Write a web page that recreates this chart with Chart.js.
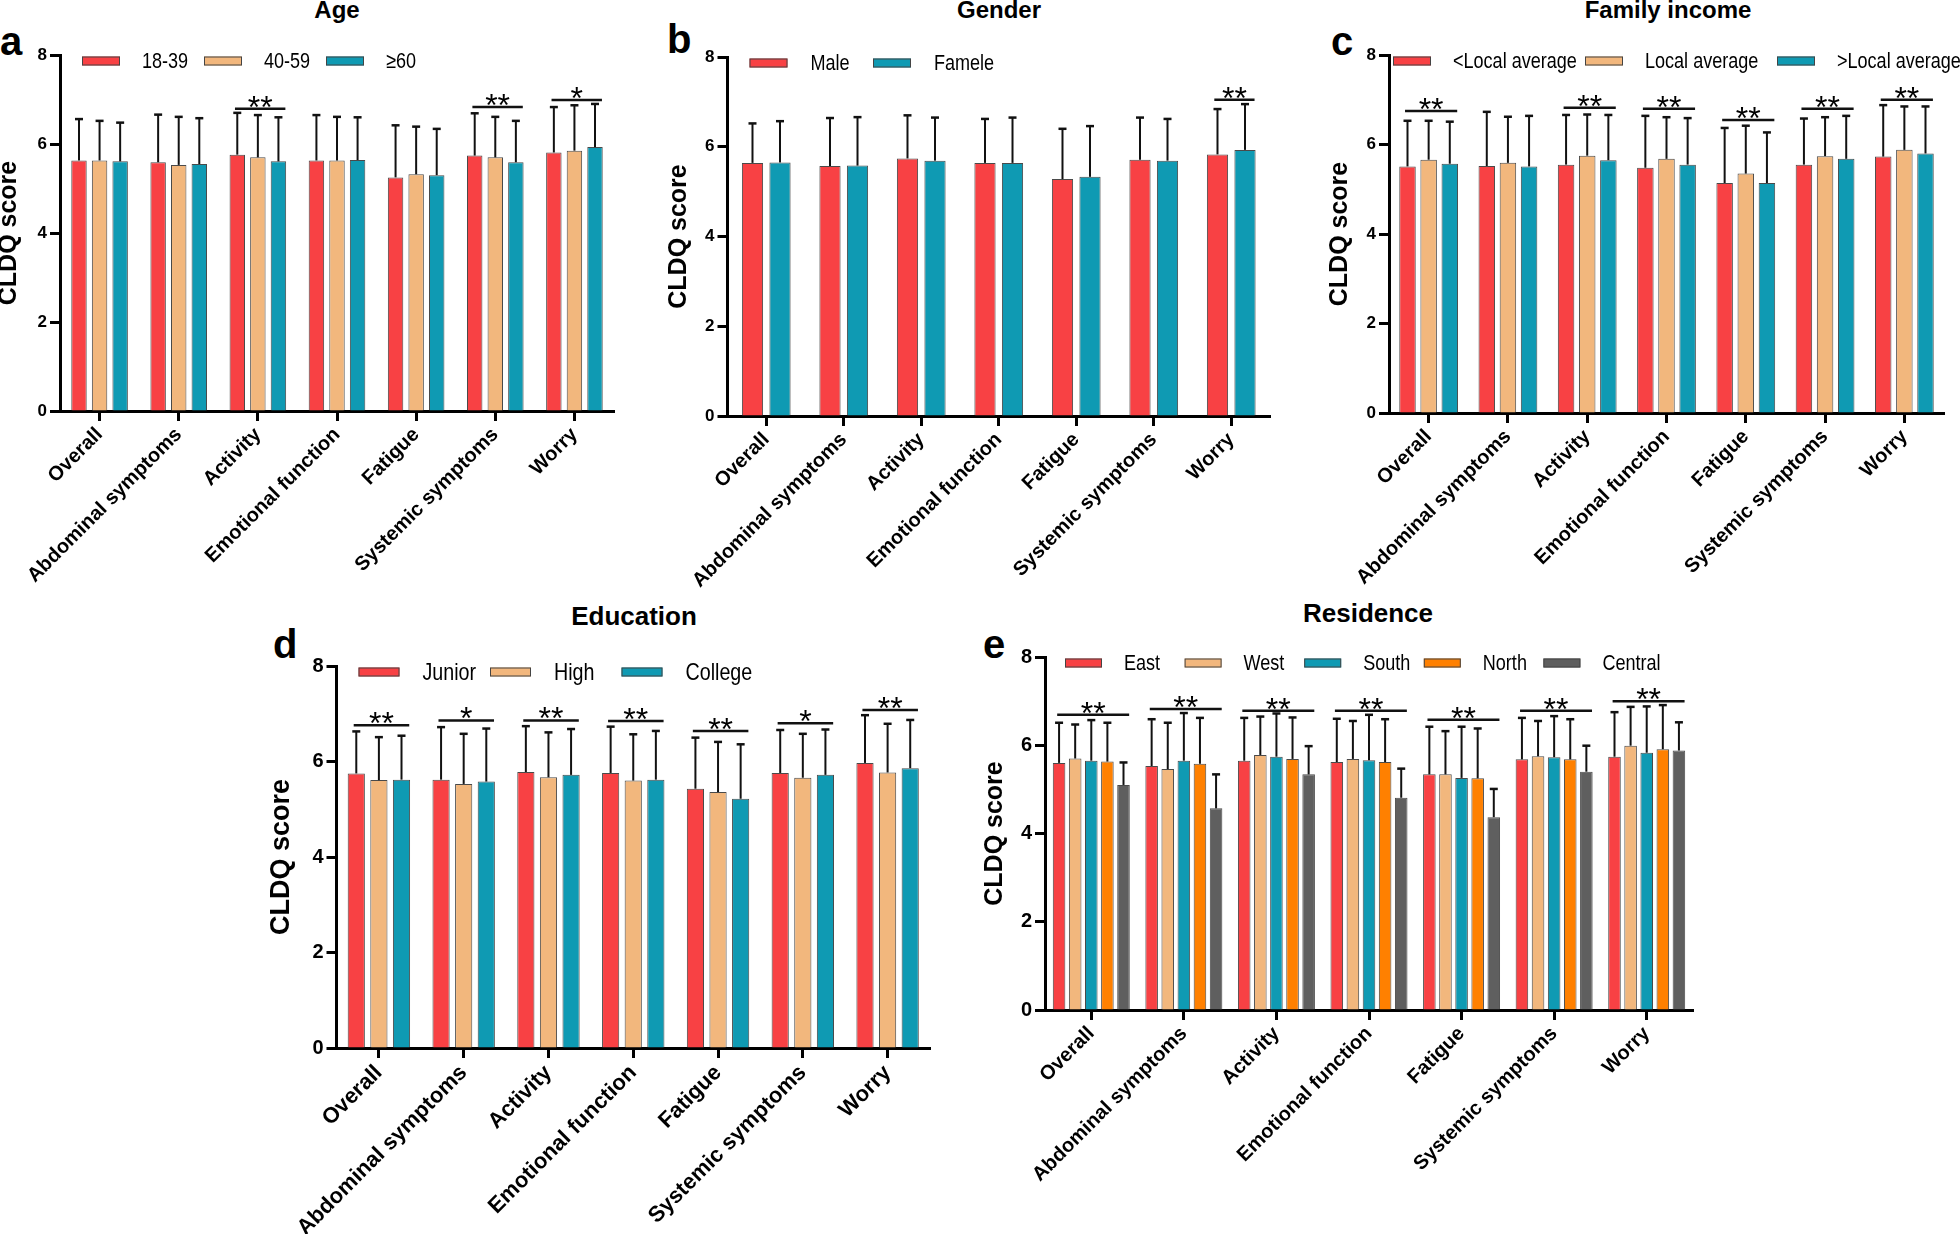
<!DOCTYPE html>
<html>
<head>
<meta charset="utf-8">
<script src="https://cdn.jsdelivr.net/npm/chart.js@4.4.1/dist/chart.umd.min.js"></script>
<style>
  body { margin: 0; background: #fff; width: 1960px; height: 1234px; position: relative; overflow: hidden;
         font-family: "Liberation Sans", Arial, sans-serif; }
  canvas { position: absolute; }
  .letter { position: absolute; font-weight: bold; font-size: 40px; line-height: 1; color: #000; }
  .title { position: absolute; font-weight: bold; line-height: 1; color: #000; white-space: nowrap; transform: translateX(-50%); }
</style>
</head>
<body>
<div class="letter" style="left:0px;top:21px">a</div>
<div class="letter" style="left:667px;top:19px">b</div>
<div class="letter" style="left:1331px;top:21px">c</div>
<div class="letter" style="left:273px;top:624px">d</div>
<div class="letter" style="left:983px;top:624px">e</div>
<div class="title" style="left:337px;top:-2px;font-size:24px">Age</div>
<div class="title" style="left:999px;top:-2px;font-size:24px">Gender</div>
<div class="title" style="left:1668px;top:-2px;font-size:24px">Family income</div>
<div class="title" style="left:634px;top:603px;font-size:26px">Education</div>
<div class="title" style="left:1368px;top:600px;font-size:26px">Residence</div>

<script>
(() => {
  'use strict'

var FONT = '"Liberation Sans", Arial, sans-serif';
Chart.defaults.font.family = FONT;
Chart.defaults.color = '#000';

// categories shared by every panel
var categories = ['Overall', 'Abdominal symptoms', 'Activity', 'Emotional function', 'Fatigue', 'Systemic symptoms', 'Worry'];

// colours
var RED = '#F84144', TAN = '#F2B77D', TEAL = '#0F9AB3', ORANGE = '#FF8000', GRAY = '#5F5F5F';

// a - Age (mean and top of the SD bar)
var ageLabels = ['18-39', '40-59', '\u226560'];
var age1839 = [5.63, 5.59, 5.76, 5.63, 5.25, 5.74, 5.81];
var age1839Top = [6.56, 6.66, 6.70, 6.65, 6.42, 6.69, 6.83];
var age4059 = [5.63, 5.53, 5.70, 5.63, 5.32, 5.70, 5.85];
var age4059Top = [6.52, 6.61, 6.65, 6.61, 6.39, 6.61, 6.87];
var age60 = [5.61, 5.55, 5.61, 5.64, 5.30, 5.59, 5.93];
var age60Top = [6.48, 6.58, 6.60, 6.60, 6.34, 6.52, 6.90];
var ageSigIndex = [2, 5, 6];
var ageSigLevel = [6.79, 6.83, 6.99];
var ageSigMark = ['**', '**', '*'];

// b - Gender
var genderLabels = ['Male', 'Famele'];
var male = [5.64, 5.57, 5.74, 5.64, 5.28, 5.71, 5.83];
var maleTop = [6.52, 6.64, 6.70, 6.62, 6.40, 6.65, 6.84];
var female = [5.65, 5.58, 5.69, 5.64, 5.33, 5.69, 5.93];
var femaleTop = [6.57, 6.66, 6.65, 6.65, 6.46, 6.62, 6.95];
var genderSigIndex = [6];
var genderSigLevel = [7.05];
var genderSigMark = ['**'];

// c - Family income
var incomeLabels = ['<Local average', 'Local average', '>Local average'];
var incomeLow = [5.51, 5.52, 5.55, 5.48, 5.14, 5.55, 5.73];
var incomeLowTop = [6.53, 6.73, 6.66, 6.64, 6.37, 6.58, 6.88];
var incomeMid = [5.66, 5.59, 5.75, 5.68, 5.35, 5.74, 5.88];
var incomeMidTop = [6.53, 6.62, 6.67, 6.61, 6.42, 6.61, 6.85];
var incomeHigh = [5.57, 5.51, 5.65, 5.55, 5.14, 5.68, 5.80];
var incomeHighTop = [6.51, 6.64, 6.66, 6.59, 6.27, 6.64, 6.85];
var incomeSigIndex = [0, 2, 3, 4, 5, 6];
var incomeSigLevel = [6.75, 6.82, 6.80, 6.55, 6.80, 7.00];
var incomeSigMark = ['**', '**', '**', '**', '**', '**'];

// d - Education
var eduLabels = ['Junior', 'High', 'College'];
var junior = [5.75, 5.62, 5.78, 5.76, 5.43, 5.76, 5.97];
var juniorTop = [6.63, 6.72, 6.74, 6.73, 6.50, 6.66, 6.97];
var high = [5.61, 5.53, 5.67, 5.60, 5.36, 5.66, 5.77];
var highTop = [6.51, 6.58, 6.61, 6.57, 6.41, 6.58, 6.79];
var college = [5.62, 5.58, 5.72, 5.62, 5.22, 5.72, 5.86];
var collegeTop = [6.54, 6.69, 6.68, 6.64, 6.36, 6.67, 6.87];
var eduSigIndex = [0, 1, 2, 3, 4, 5, 6];
var eduSigLevel = [6.76, 6.86, 6.86, 6.85, 6.64, 6.80, 7.08];
var eduSigMark = ['**', '*', '**', '**', '**', '*', '**'];

// e - Residence
var resLabels = ['East', 'West', 'South', 'North', 'Central'];
var east = [5.60, 5.53, 5.65, 5.62, 5.34, 5.68, 5.74];
var eastTop = [6.51, 6.59, 6.62, 6.60, 6.42, 6.62, 6.75];
var west = [5.70, 5.46, 5.78, 5.69, 5.34, 5.75, 5.99];
var westTop = [6.47, 6.51, 6.65, 6.55, 6.32, 6.55, 6.87];
var south = [5.65, 5.65, 5.74, 5.66, 5.26, 5.73, 5.83];
var southTop = [6.57, 6.73, 6.72, 6.69, 6.42, 6.66, 6.88];
var north = [5.63, 5.58, 5.69, 5.62, 5.25, 5.68, 5.91];
var northTop = [6.51, 6.62, 6.63, 6.59, 6.38, 6.59, 6.91];
var central = [5.10, 4.57, 5.34, 4.81, 4.37, 5.40, 5.88];
var centralTop = [5.61, 5.34, 5.98, 5.47, 5.01, 5.99, 6.52];
var resSigIndex = [0, 1, 2, 3, 4, 5, 6];
var resSigLevel = [6.69, 6.82, 6.78, 6.78, 6.58, 6.78, 7.00];
var resSigMark = ['**', '**', '**', '**', '**', '**', '**'];

// y axis ticks
var yTicks = [0, 2, 4, 6, 8];

// error bars, significance bars and the legend inside the plot
function overlay(p) {
  return {
    id: 'overlay',
    afterDatasetsDraw: function (chart) {
      var ctx = chart.ctx, y = chart.scales.y, area = chart.chartArea;
      var sets = chart.data.datasets;
      ctx.save();
      ctx.strokeStyle = '#111';
      ctx.lineCap = 'butt';
      sets.forEach(function (ds, i) {
        chart.getDatasetMeta(i).data.forEach(function (bar, j) {
          var top = y.getPixelForValue(ds.tops[j]);
          ctx.lineWidth = 2;
          ctx.beginPath();
          ctx.moveTo(bar.x, bar.y);
          ctx.lineTo(bar.x, top);
          ctx.stroke();
          ctx.lineWidth = 2.5;
          ctx.beginPath();
          ctx.moveTo(bar.x - 4, top);
          ctx.lineTo(bar.x + 4, top);
          ctx.stroke();
        });
      });

      var first = chart.getDatasetMeta(0), last = chart.getDatasetMeta(sets.length - 1);
      ctx.fillStyle = '#000';
      ctx.font = '32px ' + FONT;
      ctx.textAlign = 'center';
      ctx.textBaseline = 'alphabetic';
      p.sigIndex.forEach(function (k, n) {
        var a = first.data[k], b = last.data[k];
        var ly = y.getPixelForValue(p.sigLevel[n]);
        var x1 = a.x - a.width * 0.15, x2 = b.x + b.width * 0.45;
        ctx.lineWidth = 2.5;
        ctx.beginPath();
        ctx.moveTo(x1, ly);
        ctx.lineTo(x2, ly);
        ctx.stroke();
        ctx.fillText(p.sigMark[n], (x1 + x2) / 2, ly + 9);
      });

      // legend: text first, swatches on top
      var cy = area.top + 6;
      ctx.textAlign = 'left';
      ctx.textBaseline = 'middle';
      ctx.font = p.legendFont + 'px ' + FONT;
      sets.forEach(function (ds, i) {
        var sx = area.left + p.legendX + i * p.legendPitch;
        ctx.save();
        ctx.translate(sx + p.legendText, cy + 1);
        ctx.scale(0.82, 1);
        ctx.fillText(ds.label, 0, 0);
        ctx.restore();
      });
      sets.forEach(function (ds, i) {
        var sx = area.left + p.legendX + i * p.legendPitch;
        ctx.fillStyle = ds.backgroundColor;
        ctx.fillRect(sx, cy - 4.5, p.swatch, 9);
        ctx.strokeStyle = '#444';
        ctx.lineWidth = 1;
        ctx.strokeRect(sx + 0.5, cy - 4, p.swatch - 1, 8);
      });
      ctx.restore();
    }
  };
}

function makePanel(p) {
  var canvas = document.createElement('canvas');
  var padR = p.padR || 4;
  var left = p.l - p.yw, top = p.t - 20;
  var w = p.r - left + padR, h = p.b - top + p.xh;
  canvas.width = w;
  canvas.height = h;
  canvas.style.left = left + 'px';
  canvas.style.top = top + 'px';
  canvas.style.width = w + 'px';
  canvas.style.height = h + 'px';
  document.body.appendChild(canvas);

  var datasets = p.series.map(function (s, i) {
    return {
      label: p.labels[i],
      data: s,
      tops: p.tops[i],
      backgroundColor: p.colors[i],
      borderColor: '#4a4a4a',
      borderWidth: 1,
      barPercentage: p.bp,
      categoryPercentage: p.cp
    };
  });

  new Chart(canvas.getContext('2d'), {
    type: 'bar',
    data: { labels: categories, datasets: datasets },
    options: {
      responsive: false,
      animation: false,
      events: [],
      layout: { padding: { top: 20, right: padR, left: 0, bottom: 0 } },
      plugins: { legend: { display: false }, tooltip: { enabled: false } },
      scales: {
        x: {
          offset: true,
          grid: { offset: false, drawOnChartArea: false, tickLength: 10, tickWidth: 3, tickColor: '#000' },
          border: { color: '#000', width: 3 },
          ticks: { color: '#000', font: { size: p.xFont, weight: 'bold' }, minRotation: 45, maxRotation: 45, autoSkip: false, padding: 2 },
          afterFit: function (s) { s.height = p.xh; }
        },
        y: {
          min: 0,
          max: 8,
          afterBuildTicks: function (s) { s.ticks = yTicks.map(function (v) { return { value: v }; }); },
          grid: { drawOnChartArea: false, tickLength: 10, tickWidth: 3, tickColor: '#000' },
          border: { color: '#000', width: 3 },
          ticks: { color: '#000', font: { size: p.yFont, weight: 'bold' }, padding: 3 },
          title: { display: true, text: 'CLDQ score', color: '#000', padding: 0,
                   font: { size: p.titleFont, weight: 'bold', lineHeight: 1 } },
          afterFit: function (s) { s.width = p.yw; }
        }
      }
    },
    plugins: [overlay(p)]
  });
}

makePanel({
  l: 60, r: 614, t: 55, b: 411, yw: 63, xh: 195,
  labels: ageLabels, colors: [RED, TAN, TEAL],
  series: [age1839, age4059, age60], tops: [age1839Top, age4059Top, age60Top],
  sigIndex: ageSigIndex, sigLevel: ageSigLevel, sigMark: ageSigMark,
  bp: 0.75, cp: 0.78, xFont: 20, yFont: 17, titleFont: 25,
  legendX: 22, legendPitch: 122, legendText: 60, legendFont: 22, swatch: 38
});

makePanel({
  l: 727, r: 1270, t: 57, b: 416, yw: 60.5, xh: 190,
  labels: genderLabels, colors: [RED, TEAL],
  series: [male, female], tops: [maleTop, femaleTop],
  sigIndex: genderSigIndex, sigLevel: genderSigLevel, sigMark: genderSigMark,
  bp: 0.77, cp: 0.71, xFont: 20, yFont: 17, titleFont: 25,
  legendX: 22, legendPitch: 123.5, legendText: 61, legendFont: 22, swatch: 38
});

makePanel({
  l: 1389, r: 1944, t: 55, b: 413, yw: 61, xh: 190, padR: 16,
  labels: incomeLabels, colors: [RED, TAN, TEAL],
  series: [incomeLow, incomeMid, incomeHigh], tops: [incomeLowTop, incomeMidTop, incomeHighTop],
  sigIndex: incomeSigIndex, sigLevel: incomeSigLevel, sigMark: incomeSigMark,
  bp: 0.78, cp: 0.8, xFont: 20, yFont: 17, titleFont: 25,
  legendX: 4, legendPitch: 192, legendText: 60, legendFont: 22, swatch: 38
});

makePanel({
  l: 336, r: 930, t: 666, b: 1048, yw: 68.5, xh: 186,
  labels: eduLabels, colors: [RED, TAN, TEAL],
  series: [junior, high, college], tops: [juniorTop, highTop, collegeTop],
  sigIndex: eduSigIndex, sigLevel: eduSigLevel, sigMark: eduSigMark,
  bp: 0.76, cp: 0.8, xFont: 22, yFont: 20, titleFont: 27,
  legendX: 22, legendPitch: 131.5, legendText: 64, legendFont: 24, swatch: 41
});

makePanel({
  l: 1045, r: 1693, t: 657, b: 1010, yw: 62, xh: 200,
  labels: resLabels, colors: [RED, TAN, TEAL, ORANGE, GRAY],
  series: [east, west, south, north, central], tops: [eastTop, westTop, southTop, northTop, centralTop],
  sigIndex: resSigIndex, sigLevel: resSigLevel, sigMark: resSigMark,
  bp: 0.78, cp: 0.87, xFont: 20, yFont: 20, titleFont: 25,
  legendX: 20, legendPitch: 119.6, legendText: 59, legendFont: 22, swatch: 37
});
})()
</script>
</body>
</html>
